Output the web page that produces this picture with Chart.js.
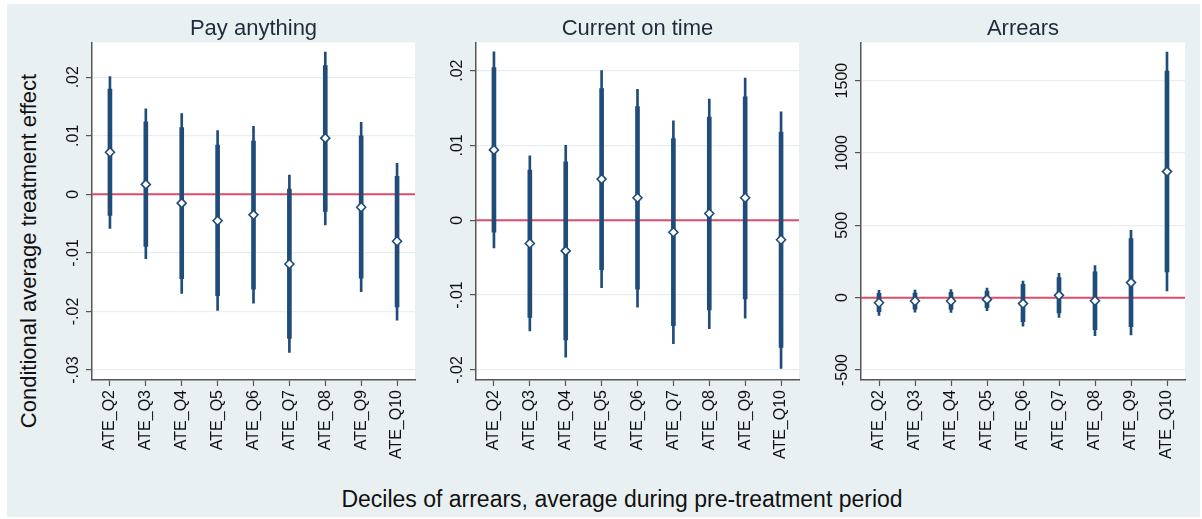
<!DOCTYPE html>
<html>
<head>
<meta charset="utf-8">
<script src="https://cdn.jsdelivr.net/npm/chart.js@4.4.1/dist/chart.umd.min.js"></script>
<style>
html, body { margin: 0; padding: 0; background: #ffffff; }
#page { position: relative; width: 1202px; height: 519px; overflow: hidden; font-family: "Liberation Sans", Arial, sans-serif; }
#bg { position: absolute; left: 7px; top: 4px; width: 1193px; height: 513px; background: #e9f0f2; }
canvas { position: absolute; top: 0; }
#ytitle { position: absolute; left: 29px; top: 251px; transform: translate(-50%, -50%) rotate(-90deg); white-space: nowrap; font-size: 22px; line-height: 22px; color: #111; }
#xtitle { position: absolute; left: 622px; top: 488px; transform: translateX(-50%); white-space: nowrap; font-size: 23px; line-height: 23px; color: #111; }
</style>
</head>
<body>
<div id="page">
  <div id="bg"></div>
  <canvas id="c1" width="423" height="470" style="left:42px"></canvas>
  <canvas id="c2" width="423" height="470" style="left:426px"></canvas>
  <canvas id="c3" width="424" height="470" style="left:811px"></canvas>
  <div id="ytitle">Conditional average treatment effect</div>
  <div id="xtitle">Deciles of arrears, average during pre-treatment period</div>
</div>
<script>
// ---- data ----
const categories = ['ATE_Q2','ATE_Q3','ATE_Q4','ATE_Q5','ATE_Q6','ATE_Q7','ATE_Q8','ATE_Q9','ATE_Q10'];

// Pay anything
const payEst    = [0.0072, 0.0017, -0.0015, -0.0045, -0.0035, -0.0119, 0.0096, -0.0022, -0.0080];
const payLo90   = [-0.0036, -0.0089, -0.0144, -0.0173, -0.0162, -0.0246, -0.0029, -0.0143, -0.0192];
const payHi90   = [0.0180, 0.0124, 0.0114, 0.0084, 0.0091, 0.0009, 0.0220, 0.0100, 0.0031];
const payLo95   = [-0.0058, -0.0110, -0.0169, -0.0198, -0.0186, -0.0270, -0.0052, -0.0166, -0.0215];
const payHi95   = [0.0201, 0.0146, 0.0138, 0.0109, 0.0116, 0.0033, 0.0243, 0.0123, 0.0053];
const payTicks  = [-0.03, -0.02, -0.01, 0, 0.01, 0.02];
const payTickLabels = ['-.03', '-.02', '-.01', '0', '.01', '.02'];

// Current on time
const curEst    = [0.0094, -0.0031, -0.0041, 0.0055, 0.0030, -0.0016, 0.0009, 0.0030, -0.0026];
const curLo90   = [-0.0016, -0.0130, -0.0160, -0.0066, -0.0092, -0.0141, -0.0120, -0.0105, -0.0170];
const curHi90   = [0.0204, 0.0067, 0.0078, 0.0176, 0.0152, 0.0109, 0.0138, 0.0165, 0.0118];
const curLo95   = [-0.0037, -0.0148, -0.0183, -0.0090, -0.0116, -0.0165, -0.0145, -0.0131, -0.0198];
const curHi95   = [0.0225, 0.0086, 0.0100, 0.0200, 0.0175, 0.0133, 0.0162, 0.0190, 0.0145];
const curTicks  = [-0.02, -0.01, 0, 0.01, 0.02];
const curTickLabels = ['-.02', '-.01', '0', '.01', '.02'];

// Arrears
const arrEst    = [-35, -23, -23, -12, -41, 16, -21, 104, 871];
const arrLo90   = [-97, -80, -82, -69, -166, -106, -221, -200, 178];
const arrHi90   = [30, 32, 36, 46, 92, 138, 179, 408, 1566];
const arrLo95   = [-122, -100, -102, -90, -197, -136, -263, -258, 46];
const arrHi95   = [50, 52, 56, 66, 115, 168, 221, 466, 1697];
const arrTicks  = [-500, 0, 500, 1000, 1500];
const arrTickLabels = ['-500', '0', '500', '1000', '1500'];

const panelTitles = ['Pay anything', 'Current on time', 'Arrears'];

// ---- styling ----
const FONT = '"Liberation Sans", Arial, sans-serif';
const NAVY = '#1f4c78';
const AXIS = '#555555';
const GRID = '#e6eef1';
const ZERO = '#dc4d69';
Chart.defaults.font.family = FONT;

const measureCtx = document.createElement('canvas').getContext('2d');
measureCtx.font = '16px ' + FONT;
function widest(labels) { return Math.max(...labels.map(l => measureCtx.measureText(l).width)); }

const plotBgPlugin = {
  id: 'plotBg',
  beforeDraw(chart) {
    const a = chart.chartArea, ctx = chart.ctx;
    ctx.save(); ctx.fillStyle = '#ffffff';
    ctx.fillRect(a.left, a.top, a.right - a.left, a.bottom - a.top);
    ctx.restore();
  }
};
const zeroLinePlugin = {
  id: 'zeroLine',
  beforeDatasetsDraw(chart) {
    const a = chart.chartArea, ctx = chart.ctx;
    const y = chart.scales.y.getPixelForValue(0);
    ctx.save(); ctx.strokeStyle = ZERO; ctx.lineWidth = 2;
    ctx.beginPath(); ctx.moveTo(a.left, y); ctx.lineTo(a.right, y); ctx.stroke();
    ctx.restore();
  }
};

function makePanel(id, title, est, lo90, hi90, lo95, hi95, ymin, ymax, ticks, tickLabels) {
  const pad = 18.5 - 6 - widest(tickLabels) / 2;
  new Chart(document.getElementById(id), {
    type: 'bar',
    data: {
      labels: categories,
      datasets: [
        { type: 'line', data: est, showLine: false, pointStyle: 'rectRot', pointRadius: 4.5,
          pointBackgroundColor: '#ffffff', pointBorderColor: NAVY, pointBorderWidth: 1.6, order: 0 },
        { type: 'bar', data: lo90.map((v, i) => [v, hi90[i]]), backgroundColor: NAVY,
          barThickness: 4, grouped: false, borderWidth: 0, order: 1 },
        { type: 'bar', data: lo95.map((v, i) => [v, hi95[i]]), backgroundColor: NAVY,
          barThickness: 2, grouped: false, borderWidth: 0, order: 2 }
      ]
    },
    options: {
      responsive: false, animation: false, devicePixelRatio: 1,
      layout: { padding: { left: 0, right: 50, top: 0, bottom: 0 } },
      plugins: {
        legend: { display: false }, tooltip: { enabled: false },
        title: { display: true, fullSize: false, text: title, color: '#1f2b3b', font: { size: 22, weight: 'normal' },
                 padding: { top: 16, bottom: 0 } }
      },
      scales: {
        x: {
          type: 'category', offset: true,
          grid: { display: true, drawOnChartArea: false, drawTicks: true, tickLength: 6, tickColor: AXIS, tickWidth: 1.2, offset: false },
          border: { display: true, color: AXIS, width: 1.5 },
          ticks: { minRotation: 90, maxRotation: 90, autoSkip: false, padding: 4, color: '#111', font: { size: 16 } },
          afterFit: s => { s.height = 90; }
        },
        y: {
          type: 'linear', min: ymin, max: ymax,
          afterBuildTicks: s => { s.ticks = ticks.map(v => ({ value: v })); },
          grid: { color: GRID, lineWidth: 1.2, drawTicks: true, tickLength: 6, tickColor: AXIS, tickWidth: 1.2 },
          border: { display: true, color: AXIS, width: 1.5 },
          ticks: { minRotation: 90, maxRotation: 90, crossAlign: 'center', padding: pad, color: '#111',
                   font: { size: 16 }, callback: (v, i) => tickLabels[i] },
          afterFit: s => { s.width = 50; }
        }
      }
    },
    plugins: [plotBgPlugin, zeroLinePlugin]
  });
}

makePanel('c1', panelTitles[0], payEst, payLo90, payHi90, payLo95, payHi95, -0.0317, 0.02595, payTicks, payTickLabels);
makePanel('c2', panelTitles[1], curEst, curLo90, curHi90, curLo95, curHi95, -0.02135, 0.02377, curTicks, curTickLabels);
makePanel('c3', panelTitles[2], arrEst, arrLo90, arrHi90, arrLo95, arrHi95, -569, 1764, arrTicks, arrTickLabels);
</script>
</body>
</html>
